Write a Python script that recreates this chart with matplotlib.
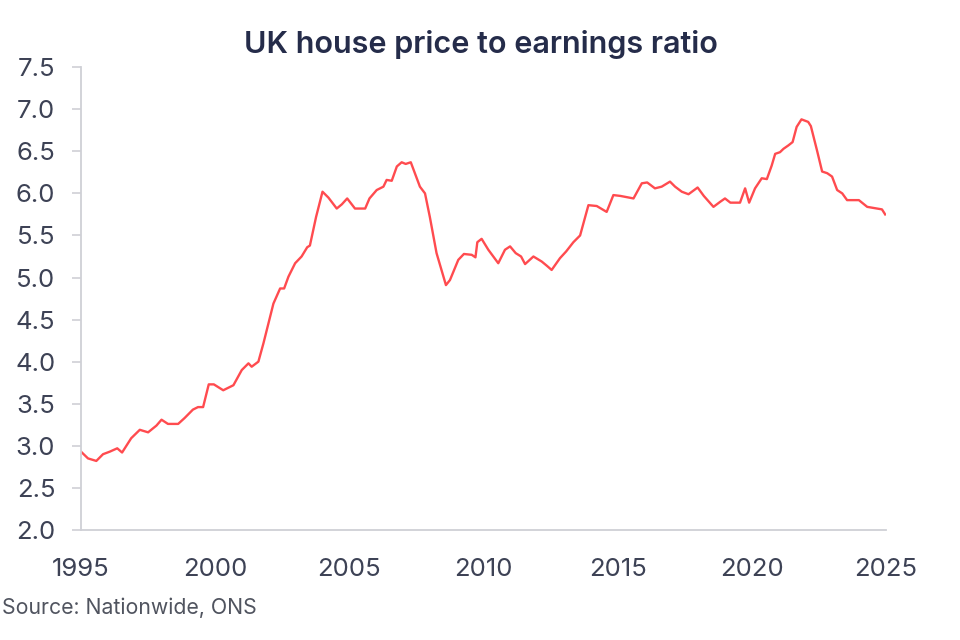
import matplotlib
matplotlib.use('Agg')
import matplotlib.pyplot as plt

plt.rcParams['font.family'] = ['Inter', 'DejaVu Sans']

# decimal year, price/earnings ratio
years = [
    1995.00, 1995.26, 1995.57, 1995.82, 1996.07, 1996.35, 1996.53, 1996.87,
    1997.19, 1997.50, 1997.81, 1998.00, 1998.24, 1998.62, 1998.86, 1999.17,
    1999.36, 1999.55, 1999.76, 1999.95, 2000.30, 2000.68, 2000.99, 2001.24,
    2001.36, 2001.61, 2001.80, 2001.98, 2002.17, 2002.42, 2002.57, 2002.73,
    2002.98, 2003.22, 2003.43, 2003.53, 2003.76, 2004.00, 2004.22, 2004.34,
    2004.53, 2004.72, 2004.92, 2005.21, 2005.59, 2005.75, 2006.02, 2006.27,
    2006.39, 2006.58, 2006.77, 2006.95, 2007.10, 2007.29, 2007.63, 2007.82,
    2008.00, 2008.25, 2008.60, 2008.75, 2009.06, 2009.27, 2009.56, 2009.70,
    2009.77, 2009.93, 2010.18, 2010.55, 2010.80, 2010.99, 2011.20, 2011.40,
    2011.55, 2011.86, 2012.17, 2012.36, 2012.54, 2012.85, 2013.08, 2013.35,
    2013.60, 2013.91, 2014.22, 2014.59, 2014.84, 2015.10, 2015.59, 2015.90,
    2016.10, 2016.39, 2016.64, 2016.95, 2017.14, 2017.39, 2017.64, 2017.98,
    2018.21, 2018.57, 2018.82, 2019.00, 2019.20, 2019.56, 2019.75, 2019.90,
    2020.12, 2020.37, 2020.56, 2020.74, 2020.87, 2021.05, 2021.18, 2021.36,
    2021.52, 2021.67, 2021.85, 2022.10, 2022.20, 2022.43, 2022.62, 2022.81,
    2022.99, 2023.18, 2023.37, 2023.55, 2023.99, 2024.30, 2024.48, 2024.67,
    2024.85, 2024.97,
]
ratio = [
    2.93, 2.85, 2.82, 2.90, 2.93, 2.97, 2.92, 3.09,
    3.19, 3.16, 3.24, 3.31, 3.26, 3.26, 3.33, 3.43,
    3.46, 3.46, 3.73, 3.73, 3.66, 3.72, 3.90, 3.98,
    3.94, 4.00, 4.22, 4.45, 4.69, 4.87, 4.87, 5.01,
    5.17, 5.25, 5.36, 5.38, 5.72, 6.02, 5.95, 5.90,
    5.82, 5.87, 5.94, 5.82, 5.82, 5.94, 6.04, 6.08,
    6.16, 6.15, 6.32, 6.37, 6.35, 6.37, 6.08, 6.00,
    5.72, 5.29, 4.91, 4.97, 5.21, 5.28, 5.27, 5.24,
    5.42, 5.46, 5.33, 5.17, 5.33, 5.37, 5.29, 5.25,
    5.16, 5.25, 5.19, 5.14, 5.09, 5.23, 5.31, 5.42,
    5.50, 5.86, 5.85, 5.78, 5.98, 5.97, 5.94, 6.12,
    6.13, 6.06, 6.08, 6.14, 6.08, 6.02, 5.99, 6.07,
    5.97, 5.84, 5.90, 5.94, 5.89, 5.89, 6.06, 5.89,
    6.06, 6.18, 6.17, 6.33, 6.47, 6.49, 6.53, 6.57,
    6.61, 6.79, 6.88, 6.85, 6.80, 6.51, 6.26, 6.24,
    6.20, 6.04, 6.00, 5.92, 5.92, 5.84, 5.83, 5.82,
    5.81, 5.75,
]

x_ticks = [1995, 2000, 2005, 2010, 2015, 2020, 2025]
y_ticks = [2.0, 2.5, 3.0, 3.5, 4.0, 4.5, 5.0, 5.5, 6.0, 6.5, 7.0, 7.5]

LINE_RED = '#ff4b4f'
AXIS_GREY = '#cfd0d6'
TEXT_GREY = '#3d4255'
NAVY = '#252c4a'

fig = plt.figure(figsize=(9.6, 6.4), dpi=100)
ax = fig.add_axes([0.0844, 0.172, 0.8385, 0.723])

ax.plot(years, ratio, color=LINE_RED, linewidth=1.7)

ax.set_xlim(1995, 2025)
ax.set_ylim(2.0, 7.5)
ax.set_xticks(x_ticks)
ax.set_yticks(y_ticks)
ax.set_yticklabels([f"{v:.1f}" for v in y_ticks])

for side in ['top', 'right']:
    ax.spines[side].set_visible(False)
for side in ['left', 'bottom']:
    ax.spines[side].set_color(AXIS_GREY)
    ax.spines[side].set_linewidth(1.3)

ax.tick_params(axis='y', length=6.5, width=1.2, color=AXIS_GREY,
               labelsize=18.5, labelcolor=TEXT_GREY, pad=12)
ax.tick_params(axis='x', length=0, labelsize=18.5, labelcolor=TEXT_GREY, pad=20)

fig.text(0.501, 0.93, "UK house price to earnings ratio", ha='center',
         va='center', fontsize=22, fontweight='semibold', color=NAVY)
fig.text(0.002, 0.051, "Source: Nationwide, ONS", ha='left', va='center',
         fontsize=15.3, color='#50545f')

fig.savefig('out.png', dpi=100, facecolor='white')
